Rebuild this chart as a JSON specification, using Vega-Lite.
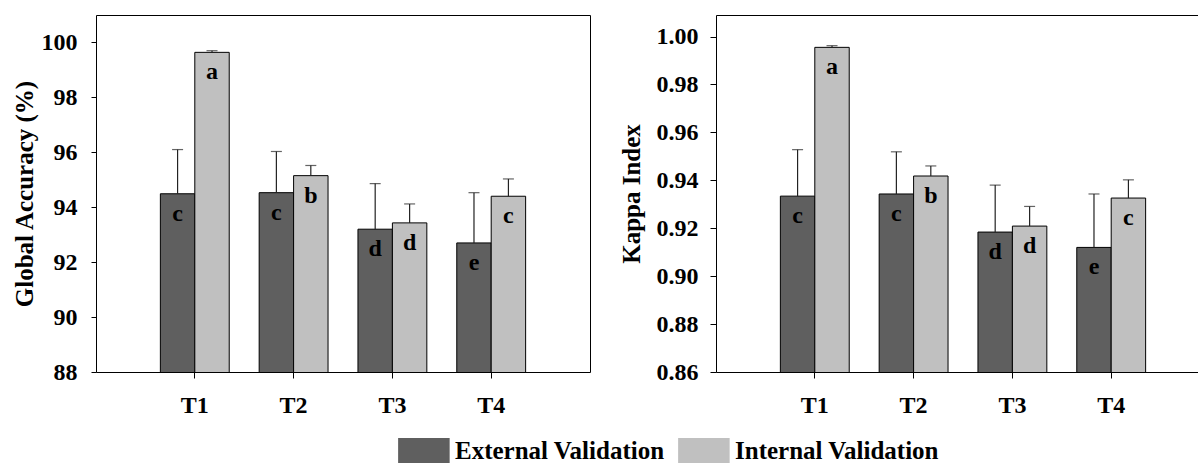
{
  "$schema": "https://vega.github.io/schema/vega-lite/v6.json",
  "padding": {"left": 11, "top": 14, "right": 0, "bottom": 0},
  "background": "white",
  "config": {
    "font": "Liberation Serif",
    "view": {"stroke": "black", "strokeWidth": 1},
    "axis": {"labelFont": "Liberation Serif", "labelFontWeight": "bold", "labelColor": "black", "titleFont": "Liberation Serif", "titleFontWeight": "bold", "titleColor": "black", "tickColor": "black", "grid": false, "domain": false},
    "legend": {"labelFont": "Liberation Serif", "labelFontWeight": "bold", "labelColor": "black"}
  },
  "datasets": {
    "acc": [
      {"treat": "T1", "val": "External Validation", "mean": 94.49, "upper": 96.10, "letter": "c"},
      {"treat": "T1", "val": "Internal Validation", "mean": 99.64, "upper": 99.70, "letter": "a"},
      {"treat": "T2", "val": "External Validation", "mean": 94.53, "upper": 96.03, "letter": "c"},
      {"treat": "T2", "val": "Internal Validation", "mean": 95.15, "upper": 95.52, "letter": "b"},
      {"treat": "T3", "val": "External Validation", "mean": 93.20, "upper": 94.86, "letter": "d"},
      {"treat": "T3", "val": "Internal Validation", "mean": 93.43, "upper": 94.12, "letter": "d"},
      {"treat": "T4", "val": "External Validation", "mean": 92.70, "upper": 94.53, "letter": "e"},
      {"treat": "T4", "val": "Internal Validation", "mean": 94.40, "upper": 95.03, "letter": "c"}
    ],
    "kappa": [
      {"treat": "T1", "val": "External Validation", "mean": 0.9334, "upper": 0.9528, "letter": "c"},
      {"treat": "T1", "val": "Internal Validation", "mean": 0.9955, "upper": 0.9962, "letter": "a"},
      {"treat": "T2", "val": "External Validation", "mean": 0.9343, "upper": 0.9519, "letter": "c"},
      {"treat": "T2", "val": "Internal Validation", "mean": 0.9418, "upper": 0.9460, "letter": "b"},
      {"treat": "T3", "val": "External Validation", "mean": 0.9184, "upper": 0.9380, "letter": "d"},
      {"treat": "T3", "val": "Internal Validation", "mean": 0.9209, "upper": 0.9291, "letter": "d"},
      {"treat": "T4", "val": "External Validation", "mean": 0.9120, "upper": 0.9343, "letter": "e"},
      {"treat": "T4", "val": "Internal Validation", "mean": 0.9326, "upper": 0.9402, "letter": "c"}
    ]
  },
  "spacing": 27,
  "hconcat": [
    {
      "width": 494,
      "height": 357,
      "data": {"name": "acc"},
      "encoding": {
        "x": {"field": "treat", "type": "nominal", "scale": {"paddingInner": 0.303, "paddingOuter": 0.6515}, "axis": {"title": null, "labelAngle": 0, "labelFontSize": 24, "tickSize": 6, "labelPadding": 15}},
        "xOffset": {"field": "val", "type": "nominal", "scale": {"paddingInner": 0, "paddingOuter": 0}}
      },
      "layer": [
        {
          "mark": {"type": "bar", "stroke": "black", "strokeWidth": 1, "clip": true},
          "encoding": {
            "y": {"field": "mean", "type": "quantitative", "scale": {"domain": [88, 101], "nice": false, "zero": false}, "axis": {"title": "Global Accuracy (%)", "values": [88, 90, 92, 94, 96, 98, 100], "labelFontSize": 24, "titleFontSize": 25, "tickSize": 5, "labelPadding": 14, "titlePadding": 4}},
            "color": {"field": "val", "type": "nominal", "scale": {"domain": ["External Validation", "Internal Validation"], "range": ["#5f5f5f", "#c0c0c0"]}, "legend": {"orient": "none", "legendX": 302, "legendY": 423, "direction": "horizontal", "title": null, "labelFontSize": 25, "labelLimit": 400, "symbolType": "M-1,-1H3V1H-1Z", "symbolSize": 664, "symbolStrokeWidth": 0, "symbolOpacity": 1, "labelOffset": 31, "columnPadding": 13, "padding": 0}}
          }
        },
        {
          "mark": {"type": "rule", "color": "#222", "strokeWidth": 1.2},
          "encoding": {"y": {"field": "mean", "type": "quantitative"}, "y2": {"field": "upper"}}
        },
        {
          "mark": {"type": "tick", "color": "#222", "size": 11, "thickness": 1.2},
          "encoding": {"y": {"field": "upper", "type": "quantitative"}}
        },
        {
          "mark": {"type": "text", "fontSize": 24, "fontWeight": "bold", "baseline": "alphabetic", "dy": 27, "color": "black"},
          "encoding": {"y": {"field": "mean", "type": "quantitative"}, "text": {"field": "letter"}}
        }
      ]
    },
    {
      "width": 485,
      "height": 357,
      "data": {"name": "kappa"},
      "encoding": {
        "x": {"field": "treat", "type": "nominal", "scale": {"paddingInner": 0.303, "paddingOuter": 0.6515, "range": [0, 494]}, "axis": {"title": null, "labelAngle": 0, "labelFontSize": 24, "tickSize": 6, "labelPadding": 15}},
        "xOffset": {"field": "val", "type": "nominal", "scale": {"paddingInner": 0, "paddingOuter": 0}}
      },
      "layer": [
        {
          "mark": {"type": "bar", "stroke": "black", "strokeWidth": 1, "clip": true},
          "encoding": {
            "y": {"field": "mean", "type": "quantitative", "scale": {"domain": [0.86, 1.009], "nice": false, "zero": false}, "axis": {"title": "Kappa Index", "values": [0.86, 0.88, 0.9, 0.92, 0.94, 0.96, 0.98, 1.0], "format": ".2f", "labelFontSize": 24, "titleFontSize": 25, "tickSize": 6, "labelPadding": 12, "titlePadding": 12}},
            "color": {"field": "val", "type": "nominal"}
          }
        },
        {
          "mark": {"type": "rule", "color": "#222", "strokeWidth": 1.2},
          "encoding": {"y": {"field": "mean", "type": "quantitative"}, "y2": {"field": "upper"}}
        },
        {
          "mark": {"type": "tick", "color": "#222", "size": 11, "thickness": 1.2},
          "encoding": {"y": {"field": "upper", "type": "quantitative"}}
        },
        {
          "mark": {"type": "text", "fontSize": 24, "fontWeight": "bold", "baseline": "alphabetic", "dy": 27, "color": "black"},
          "encoding": {"y": {"field": "mean", "type": "quantitative"}, "text": {"field": "letter"}}
        }
      ]
    }
  ]
}
